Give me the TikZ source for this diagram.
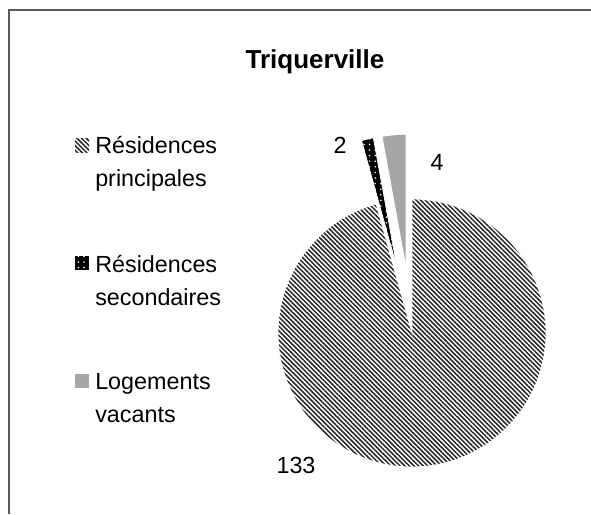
\documentclass[tikz,border=0pt]{standalone}
\usepackage{fontspec}
\setmainfont{Liberation Sans}
\usetikzlibrary{patterns.meta}

\definecolor{vacgray}{HTML}{A6A6A6}
\definecolor{framegray}{HTML}{595959}

\begin{document}
\begin{tikzpicture}[x=0.75pt, y=0.75pt,
    hatchfill/.style={pattern={Lines[angle=-45, distance=2.45pt, line width=1.15pt]}, pattern color=black!85},
    dotfill/.style={preaction={fill=black}, pattern={Dots[distance=4.2pt, radius=0.65pt]}, pattern color=white},
    vacfill/.style={fill=vacgray},
    slice/.style={draw=white, line width=0.6pt},
    legendbox/.style={minimum size=10.5pt, inner sep=0pt},
    legendtext/.style={anchor=west, align=left, inner sep=0pt, font=\fontsize{17.5}{24.75}\selectfont},
    value/.style={inner sep=0pt, font=\fontsize{17.5}{20}\selectfont}]

    % frame and page
    \useasboundingbox (0,0) rectangle (591,514);
    \draw [framegray, line width=1.1pt] (9,0) -- (9,504) -- (591,504);

    % title
    \node [font=\bfseries\fontsize{19.5}{23}\selectfont] (title) at (315,452) {Triquerville};

    % pie centre and exploded apexes
    \coordinate (c) at (412,181);
    \path (c) ++(95.18:65) coordinate (vacapex);
    \path (c) ++(102.95:65) coordinate (secapex);

    % slices
    \path [slice, hatchfill] (c) -- ++(105.54:134) arc[start angle=105.54, end angle=450, radius=134] -- cycle;
    \path [slice, dotfill] (secapex) -- ++(100.36:134) arc[start angle=100.36, end angle=105.54, radius=134] -- cycle;
    \path [slice, vacfill] (vacapex) -- ++(90:134) arc[start angle=90, end angle=100.36, radius=134] -- cycle;

    % values
    \node [value] (vprinc) at (296,49) {133};
    \node [value] (vsec) at (340,369) {2};
    \node [value] (vvac) at (437,352) {4};

    % legend
    \node [legendbox, hatchfill] (kprinc) at (82,368) {};
    \node [legendbox, dotfill] (ksec) at (82,251) {};
    \node [legendbox, vacfill] (kvac) at (82,133) {};
    \node [legendtext] (lprinc) at (95,350.5) {Résidences\\principales};
    \node [legendtext] (lsec) at (95,233) {Résidences\\secondaires};
    \node [legendtext] (lvac) at (95,116) {Logements\\vacants};
\end{tikzpicture}
\end{document}
